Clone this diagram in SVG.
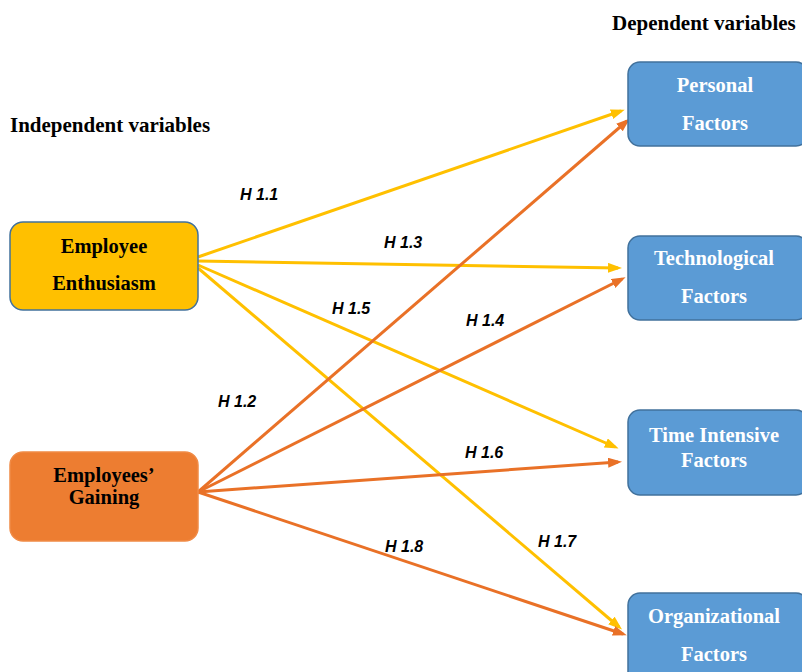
<svg xmlns="http://www.w3.org/2000/svg" width="802" height="672" viewBox="0 0 802 672">
<style>
.hdr{font-family:"Liberation Serif",serif;font-weight:bold;font-size:21px;fill:#000}
.nt{font-family:"Liberation Serif",serif;font-weight:bold;font-size:20.5px;text-anchor:middle}
.dk{fill:#000}
.wt{fill:#fff}
.lbl{font-family:"Liberation Sans",Arial,sans-serif;font-weight:bold;font-style:italic;font-size:16px;fill:#000}
.y{stroke:#FFC000;stroke-width:3;fill:none}
.o{stroke:#E97127;stroke-width:3;fill:none}
.blue{fill:#5B9BD5;stroke:#41719C;stroke-width:1.5}
</style>
<defs>
<marker id="ay" markerUnits="userSpaceOnUse" markerWidth="16" markerHeight="12" refX="10" refY="5" orient="auto"><path d="M0,0 L14,5 L0,10 z" fill="#FFC000"/></marker>
<marker id="ao" markerUnits="userSpaceOnUse" markerWidth="16" markerHeight="12" refX="10" refY="5" orient="auto"><path d="M0,0 L14,5 L0,10 z" fill="#E97127"/></marker>
</defs>
<rect width="802" height="672" fill="#fff"/>
<text class="hdr" x="612" y="30">Dependent variables</text>
<text class="hdr" x="10" y="132">Independent variables</text>
<g id="connectors">
<line class="y" x1="198" y1="257" x2="621" y2="111" marker-end="url(#ay)"/>
<line class="y" x1="198" y1="261" x2="618" y2="268" marker-end="url(#ay)"/>
<line class="y" x1="198" y1="265" x2="615" y2="447" marker-end="url(#ay)"/>
<line class="y" x1="198" y1="268" x2="619" y2="627" marker-end="url(#ay)"/>
<line class="o" x1="198" y1="492" x2="627" y2="121" marker-end="url(#ao)"/>
<line class="o" x1="198" y1="492" x2="622" y2="279" marker-end="url(#ao)"/>
<line class="o" x1="198" y1="492" x2="618" y2="462" marker-end="url(#ao)"/>
<line class="o" x1="198" y1="492" x2="623" y2="634" marker-end="url(#ao)"/>
</g>
<g id="labels">
<text class="lbl" x="240" y="200">H 1.1</text>
<text class="lbl" x="384" y="248">H 1.3</text>
<text class="lbl" x="332" y="314">H 1.5</text>
<text class="lbl" x="466" y="326">H 1.4</text>
<text class="lbl" x="218" y="407">H 1.2</text>
<text class="lbl" x="465" y="458">H 1.6</text>
<text class="lbl" x="385" y="552">H 1.8</text>
<text class="lbl" x="538" y="547">H 1.7</text>
</g>
<g id="employee-enthusiasm">
<rect x="10" y="222" width="188" height="88" rx="13" fill="#FFC000" stroke="#41719C" stroke-width="1.5"/>
<text class="nt dk" x="104" y="253">Employee</text>
<text class="nt dk" x="104" y="290">Enthusiasm</text>
</g>
<g id="employees-gaining">
<rect x="10" y="452" width="188" height="89" rx="13" fill="#ED7D31" stroke="#F08A45" stroke-width="1.5"/>
<text class="nt dk" x="104" y="482">Employees’</text>
<text class="nt dk" x="104" y="504">Gaining</text>
</g>
<g id="personal-factors">
<rect class="blue" x="628" y="62" width="180" height="84" rx="12"/>
<text class="nt wt" x="715" y="92">Personal</text>
<text class="nt wt" x="715" y="130">Factors</text>
</g>
<g id="technological-factors">
<rect class="blue" x="628" y="236" width="180" height="84" rx="12"/>
<text class="nt wt" x="714" y="265">Technological</text>
<text class="nt wt" x="714" y="303">Factors</text>
</g>
<g id="time-intensive-factors">
<rect class="blue" x="628" y="410" width="180" height="85" rx="12"/>
<text class="nt wt" x="714" y="442">Time Intensive</text>
<text class="nt wt" x="714" y="467">Factors</text>
</g>
<g id="organizational-factors">
<rect class="blue" x="628" y="593" width="180" height="100" rx="12"/>
<text class="nt wt" x="714" y="623">Organizational</text>
<text class="nt wt" x="714" y="661">Factors</text>
</g>
</svg>
